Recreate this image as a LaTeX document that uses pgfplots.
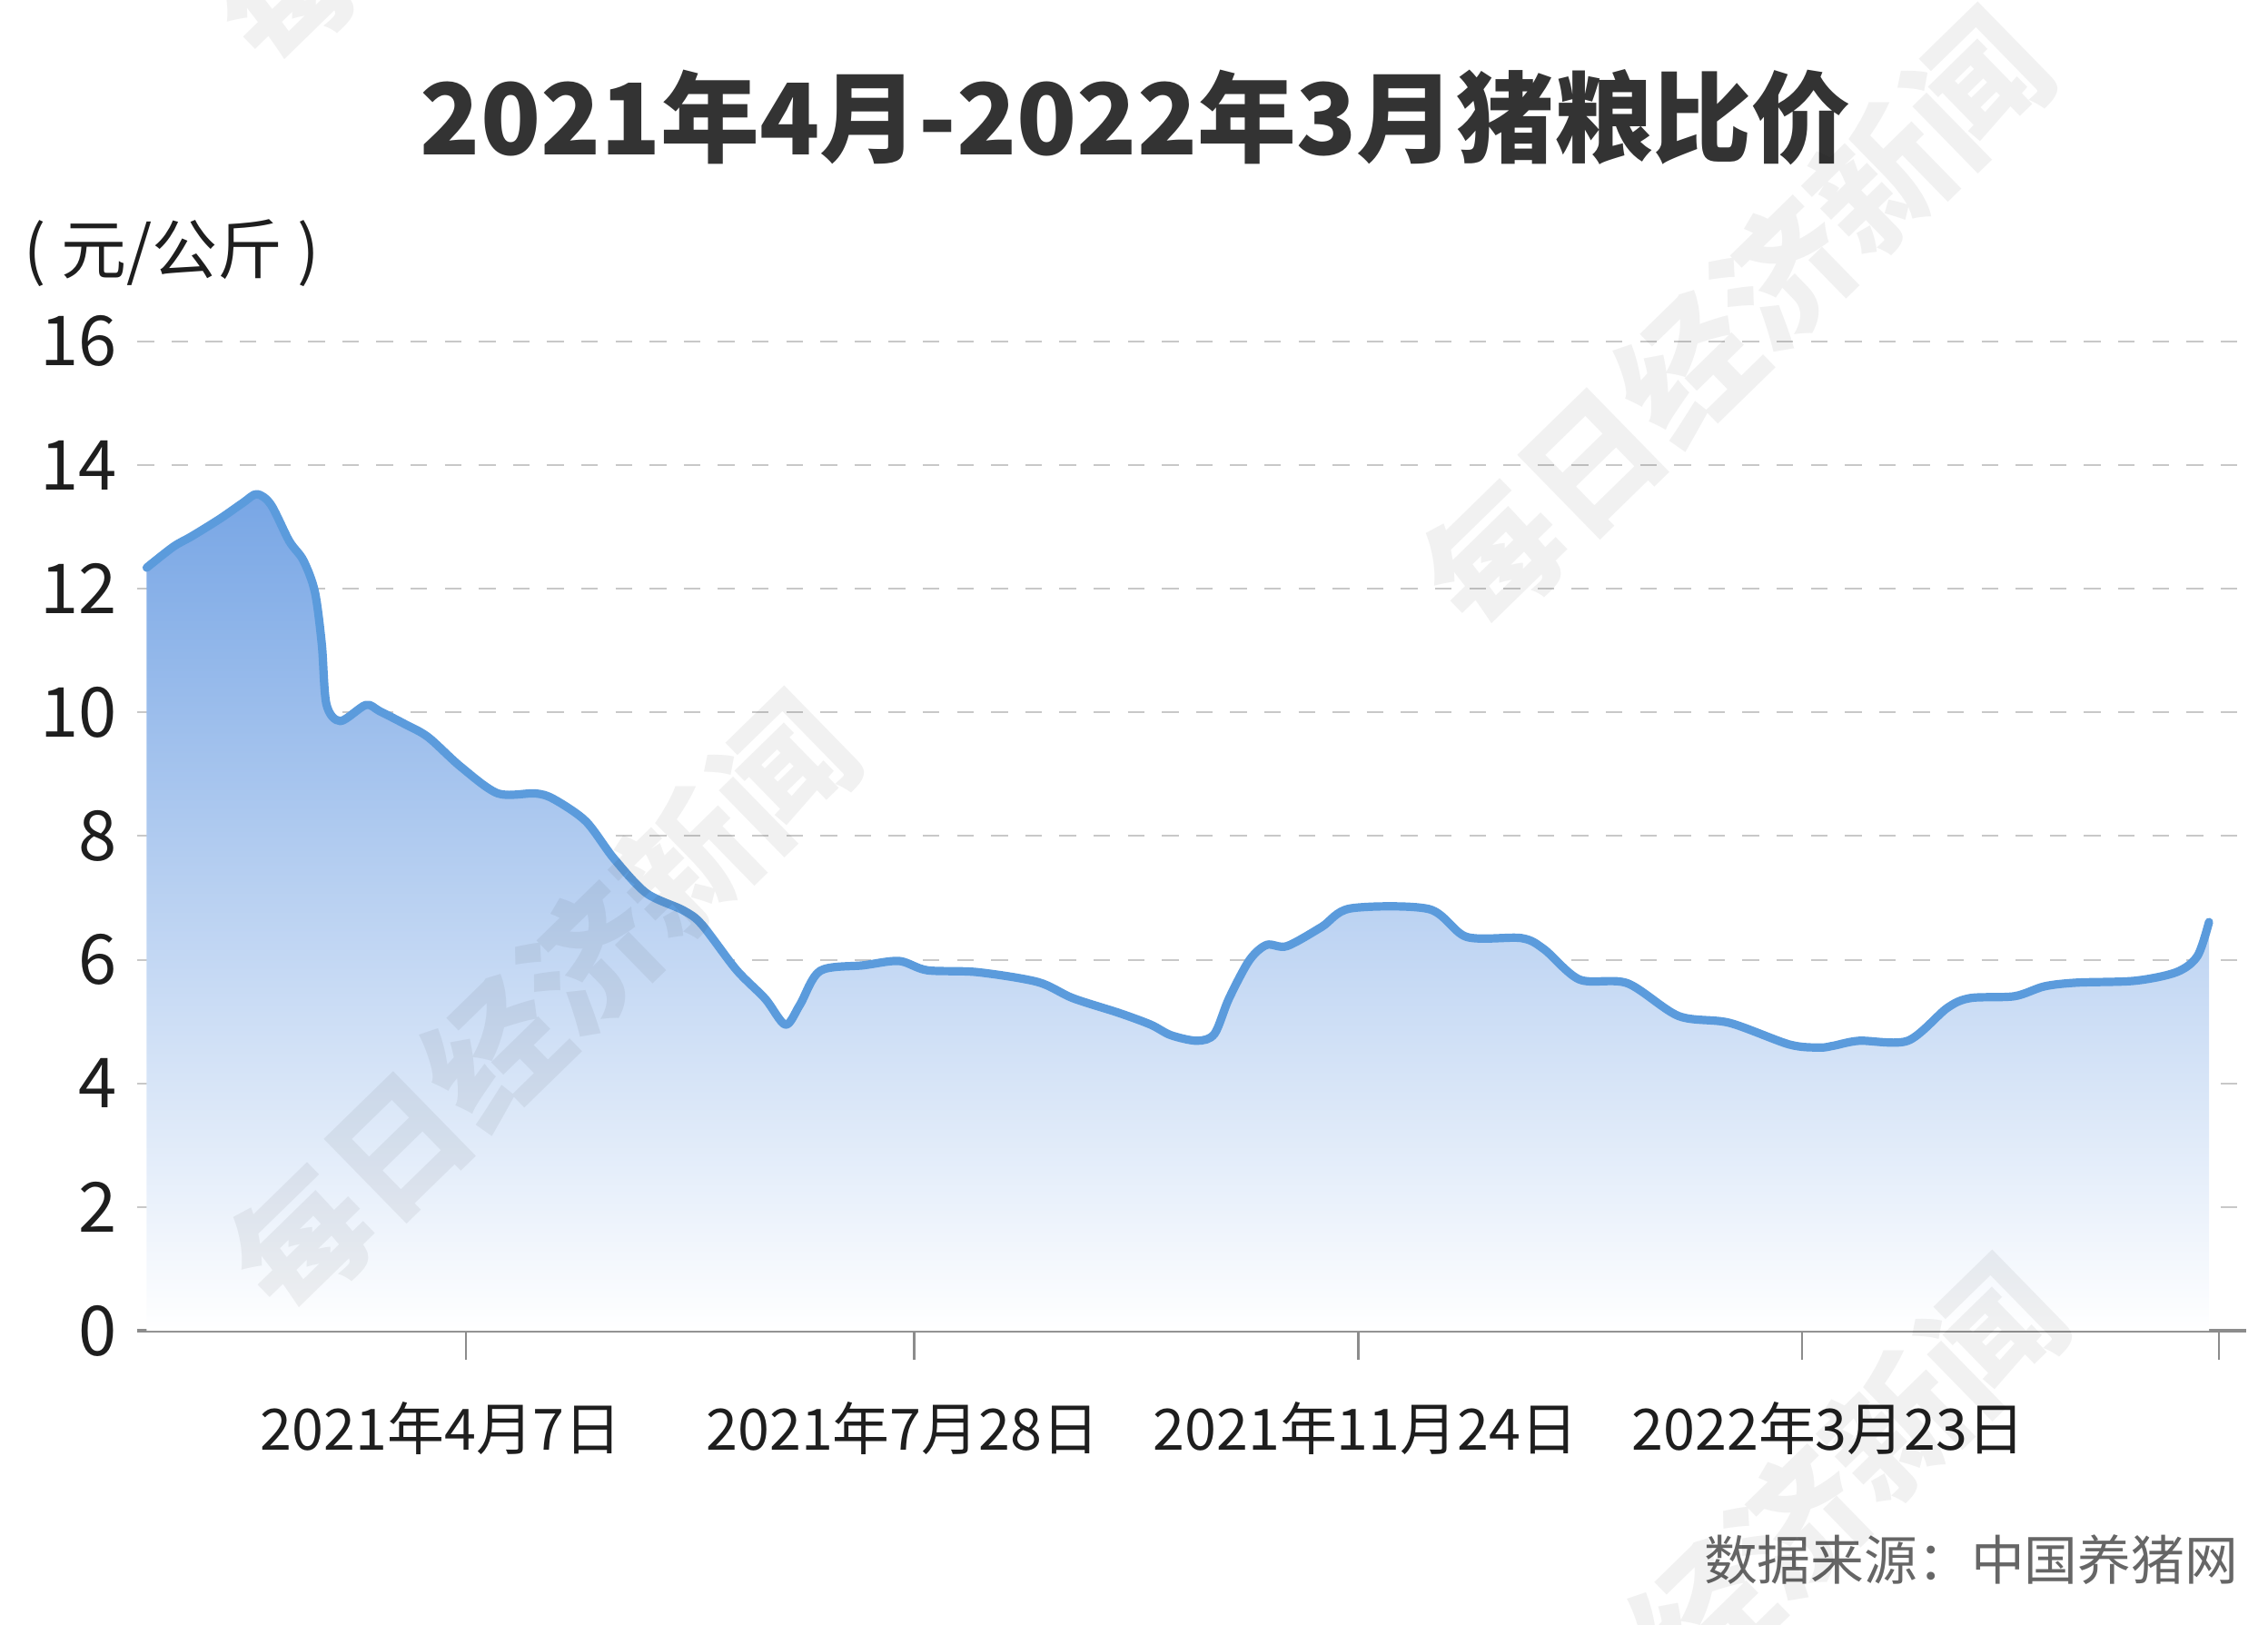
\documentclass[border=0pt]{standalone}
\usepackage{fontspec}
\usepackage{pgfplots}
\usepackage{pgfplotstable}
\pgfplotsset{compat=1.18}
\setmainfont{Noto Sans CJK SC}
\definecolor{linec}{RGB}{91,155,220}
\definecolor{topc}{RGB}{120,166,229}
\definecolor{gridc}{RGB}{200,200,200}
\definecolor{axisc}{RGB}{140,140,140}
\definecolor{titlec}{RGB}{51,51,51}
\definecolor{srcc}{RGB}{102,102,102}
\definecolor{txtc}{RGB}{30,30,30}
\pgfplotstableread{
x y
101.4 12.34
119.9 12.68
132.7 12.85
152 13.13
168 13.39
177.6 13.53
187.3 13.36
200 12.77
209.7 12.46
217.7 11.95
222.5 11.10
225.7 10.13
235.3 9.86
252.9 10.12
262.5 10.02
280 9.81
296 9.60
318.6 9.12
344.2 8.69
369.9 8.69
382.7 8.60
405 8.24
424.3 7.64
446.7 7.08
472.3 6.80
485.2 6.57
509 5.84
529 5.37
543 4.95
553 5.27
567 5.82
597 5.91
621.6 5.98
641 5.83
675.5 5.80
717.5 5.64
741.6 5.38
773.6 5.14
795.6 4.95
809.5 4.78
827.6 4.69
839.6 4.80
849.6 5.37
863.7 5.99
875.7 6.24
889.7 6.22
913.7 6.53
933.7 6.83
987.8 6.82
1013.9 6.37
1051.8 6.35
1067.5 6.17
1092 5.68
1125.1 5.62
1160.5 5.09
1195.6 4.98
1237 4.63
1258.1 4.58
1267.7 4.61
1285.4 4.69
1319 4.69
1346.2 5.22
1362.2 5.38
1392.7 5.41
1413.5 5.57
1435.9 5.63
1476 5.66
1504.8 5.80
1519.2 6.06
1527.2 6.61
}\datatable
\begin{document}
\begin{tikzpicture}
\path[use as bounding box] (-37.82pt,-80.82pt) rectangle (586.43pt,366.27pt);
\begin{axis}[
  at={(0pt,0pt)}, anchor=south west,
  scale only axis, width=580.46pt, height=272.31pt,
  xmin=95, xmax=1553, ymin=0, ymax=16,
  axis x line*=bottom, axis y line*=left,
  x axis line style={draw=axisc, line width=0.8pt},
  y axis line style={draw=none},
  xtick={322,632,939,1246,1534},
  xticklabels={},
  extra x ticks={305,624,944,1264},
  extra x tick labels={2021年4月7日,2021年7月28日,2021年11月24日,2022年3月23日},
  extra x tick style={xtick style={draw=none, line width=0pt}},
  tick align=outside,
  major tick length=8pt,
  xtick style={draw=axisc, line width=0.6pt},
  ytick={0,2,...,16},
  ytick style={draw=none},
  ymajorgrids,
  grid style={draw=gridc, line width=0.5pt, dash pattern=on 4.6pt off 4.8pt},
  yticklabel style={font=\fontsize{19}{19}\selectfont, text=txtc, xshift=6pt},
  xticklabel style={font=\fontsize{15.7}{15.7}\selectfont, text=txtc, anchor=base, yshift=-24.8pt},
  /pgf/number format/assume math mode=true,
  clip=false,
]
\addplot[draw=none, top color=topc, bottom color=white, smooth, tension=0.5] table {\datatable} \closedcycle;
\addplot[linec, line width=2.3pt, smooth, tension=0.5, line cap=round, line join=round] table {\datatable};
\end{axis}
\node[anchor=base, inner sep=0pt, font=\fontsize{27.2}{27.2}\selectfont\bfseries, text=titlec] at (274.7pt,323.7pt) {2021年4月-2022年3月猪粮比价};
\node[anchor=base west, inner sep=0pt, font=\fontsize{18}{18}\selectfont, text=txtc] at (-31.3pt,291pt) {( 元/公斤 )};
\node[anchor=base east, inner sep=0pt, font=\fontsize{14.7}{14.7}\selectfont, text=srcc] at (578.4pt,-68.5pt) {数据来源：中国养猪网};
\foreach \x/\y in {111.5/89.6, 439.9/277.9, 443.9/-65.7, 107.5/433.1}
  \node[rotate=44.3, font=\fontsize{37}{37}\selectfont\bfseries, text=black, opacity=0.055] at (\x pt,\y pt) {每日经济新闻};
\end{tikzpicture}
\end{document}
